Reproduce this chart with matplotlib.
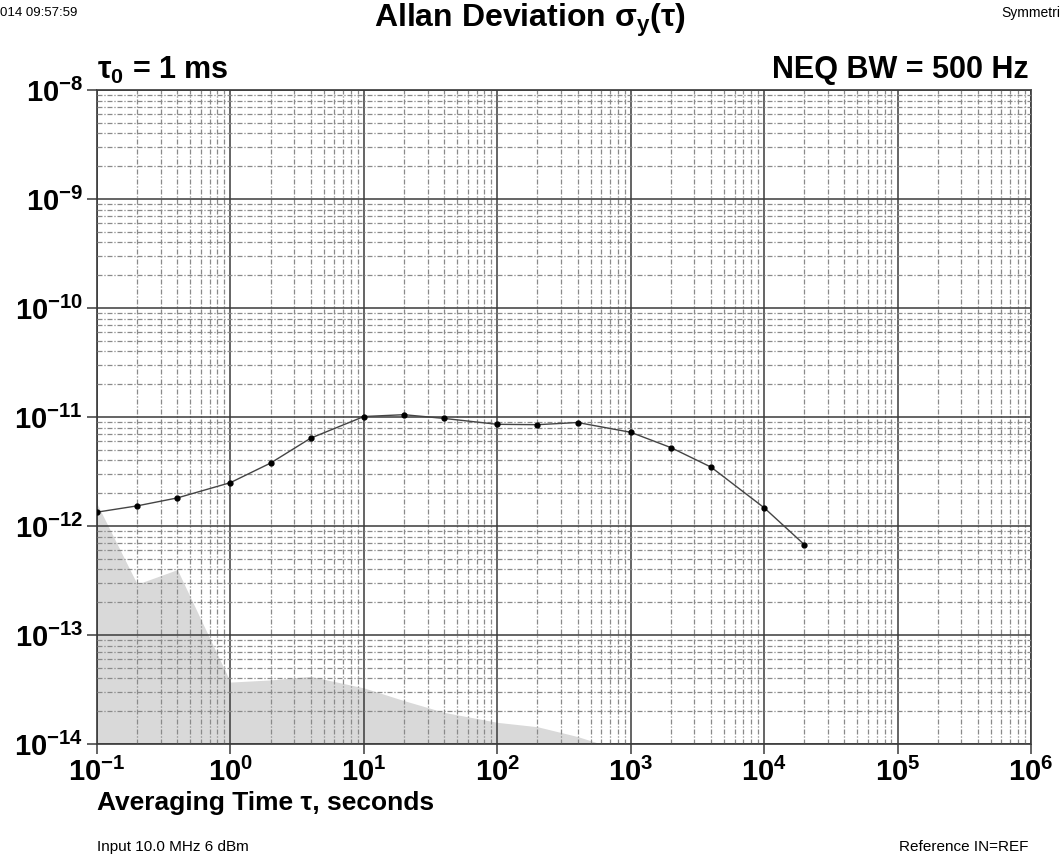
import matplotlib
matplotlib.use("Agg")
import matplotlib.pyplot as plt
from matplotlib.ticker import LogLocator, NullFormatter, FixedLocator
import numpy as np

plt.rcParams['font.family'] = ['Liberation Sans', 'DejaVu Sans']
plt.rcParams['mathtext.fontset'] = 'custom'
plt.rcParams['mathtext.rm'] = 'Liberation Sans:bold'
plt.rcParams['mathtext.bf'] = 'Liberation Sans:bold'
plt.rcParams['mathtext.it'] = 'Liberation Sans:italic'

# averaging times and measured Allan deviation
tau = [0.1, 0.2, 0.4, 1, 2, 4, 10, 20, 40, 100, 200, 400,
       1000, 2000, 4000, 10000, 20000]
adev = [1.34e-12, 1.53e-12, 1.81e-12, 2.5e-12, 3.78e-12, 6.4e-12,
        1.01e-11, 1.05e-11, 9.7e-12, 8.57e-12, 8.5e-12, 8.9e-12,
        7.24e-12, 5.24e-12, 3.47e-12, 1.47e-12, 6.75e-13]

# noise floor (shaded region)
floor_tau = [0.1, 0.2, 0.4, 1, 2, 4, 10, 20, 40, 100, 200, 400, 1000]
floor_val = [1.6e-12, 2.93e-13, 3.98e-13, 3.7e-14, 3.87e-14, 4.17e-14,
             3.27e-14, 2.5e-14, 1.95e-14, 1.58e-14, 1.44e-14, 1.17e-14, 8.2e-15]

x_major = [1e-1, 1e0, 1e1, 1e2, 1e3, 1e4, 1e5, 1e6]
x_labels = [r'$10^{-1}$', r'$10^{0}$', r'$10^{1}$', r'$10^{2}$',
            r'$10^{3}$', r'$10^{4}$', r'$10^{5}$', r'$10^{6}$']
y_major = [1e-14, 1e-13, 1e-12, 1e-11, 1e-10, 1e-9, 1e-8]
y_labels = [r'$10^{-14}$', r'$10^{-13}$', r'$10^{-12}$', r'$10^{-11}$',
            r'$10^{-10}$', r'$10^{-9}$', r'$10^{-8}$']

fig = plt.figure(figsize=(10.6, 8.61), dpi=100)
ax = fig.add_axes([97/1060, 1 - 744/861, (1031 - 97)/1060, (744 - 90)/861])

ax.set_xscale('log')
ax.set_yscale('log')
ax.set_xlim(1e-1, 1e6)
ax.set_ylim(1e-14, 1e-8)

ax.fill_between(floor_tau, 1e-16, floor_val, color='#d9d9d9', lw=0, zorder=1)

ax.xaxis.set_major_locator(FixedLocator(x_major))
ax.yaxis.set_major_locator(FixedLocator(y_major))
ax.xaxis.set_minor_locator(LogLocator(base=10, subs=np.arange(2, 10), numticks=20))
ax.yaxis.set_minor_locator(LogLocator(base=10, subs=np.arange(2, 10), numticks=20))
ax.xaxis.set_minor_formatter(NullFormatter())
ax.yaxis.set_minor_formatter(NullFormatter())
ax.set_xticklabels(x_labels, fontsize=21)
ax.set_yticklabels(y_labels, fontsize=21)

ax.grid(which='major', color='#3a3a3a', lw=1.1, ls='-', zorder=2)
ax.grid(which='minor', color='#8a8a8a', lw=0.9, ls=(0, (4, 1.5, 1, 1.5)), zorder=2)
ax.set_axisbelow(False)
ax.tick_params(which='major', direction='out', length=7, width=1.1, color='#3a3a3a', pad=3)
ax.tick_params(which='minor', length=0)
for s in ax.spines.values():
    s.set_color('#555555')
    s.set_linewidth(1.4)

ax.plot(tau, adev, color='#444444', lw=1.0, marker='o', ms=3.5,
        mfc='black', mec='black', zorder=5)

# annotations
fig.text(530/1060, 1 - 20/861, r'Allan Deviation σ$_{\mathregular{y}}$(τ)',
         ha='center', va='center', fontsize=23, fontweight='bold')
fig.text(0, 1 - 13/861, '014 09:57:59', ha='left', va='center', fontsize=9.5)
fig.text(1, 1 - 13/861, 'Symmetri', ha='right', va='center', fontsize=10)
fig.text(97/1060, 1 - 70/861, r'τ$_{\mathregular{0}}$ = 1 ms', ha='left', va='center',
         fontsize=22, fontweight='bold')
fig.text(1029/1060, 1 - 70/861, 'NEQ BW = 500 Hz', ha='right', va='center',
         fontsize=22, fontweight='bold')
fig.text(97/1060, 1 - 803/861, 'Averaging Time τ, seconds', ha='left',
         va='center', fontsize=19, fontweight='bold')
fig.text(97/1060, 1 - 847/861, 'Input 10.0 MHz 6 dBm', ha='left', va='center',
         fontsize=11)
fig.text(1028/1060, 1 - 847/861, 'Reference IN=REF', ha='right', va='center',
         fontsize=11)

fig.savefig('out.png', dpi=100)
